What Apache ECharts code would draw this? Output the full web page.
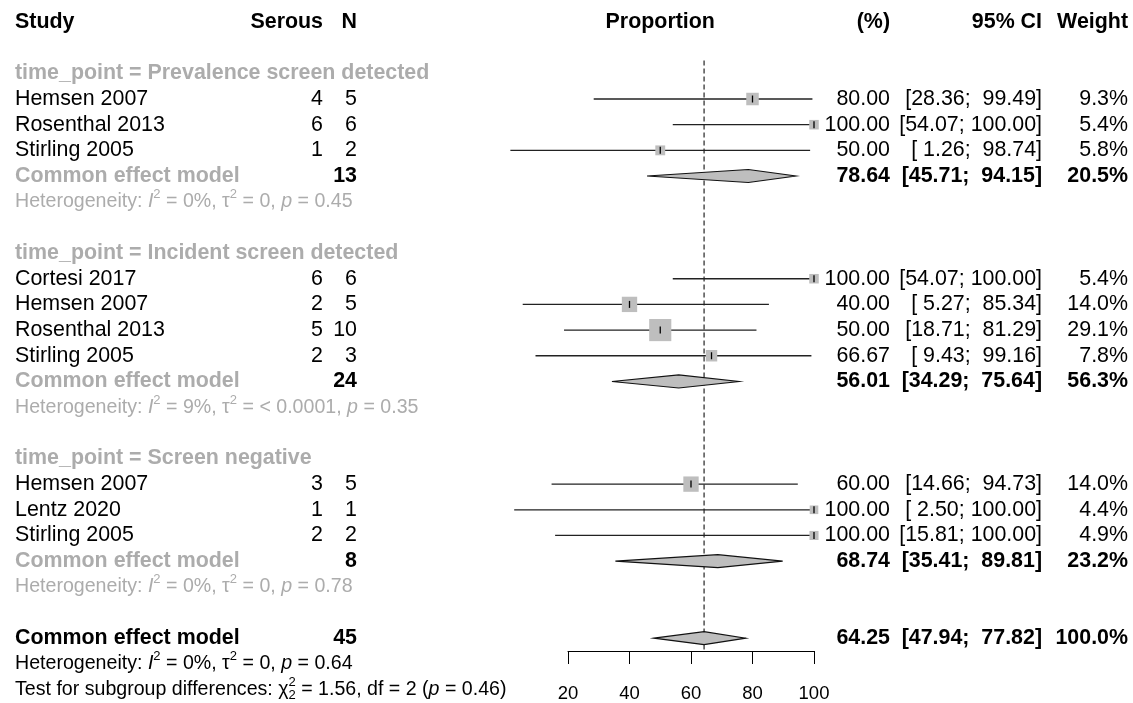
<!DOCTYPE html>
<html><head><meta charset="utf-8">
<script src="https://cdn.jsdelivr.net/npm/echarts@6/dist/echarts.min.js"></script>
<style>html,body{margin:0;padding:0;background:#fff}#c{width:1133px;height:703px}</style>
</head><body><div id="c"></div>
<script>
// ---------------- DATA ----------------
const xTicks = [20, 40, 60, 80, 100];
const headers = ['Study', 'Serous', 'N', 'Proportion', '(%)', '95% CI', 'Weight'];
const groupLabels = ['time_point = Prevalence screen detected', 'time_point = Incident screen detected', 'time_point = Screen negative'];
const studyNames = ['Hemsen 2007', 'Rosenthal 2013', 'Stirling 2005', 'Cortesi 2017', 'Hemsen 2007', 'Rosenthal 2013', 'Stirling 2005', 'Hemsen 2007', 'Lentz 2020', 'Stirling 2005'];
const studyGroup = [0, 0, 0, 1, 1, 1, 1, 2, 2, 2];
const serous = [4, 6, 1, 6, 2, 5, 2, 3, 1, 2];
const totalN = [5, 6, 2, 6, 5, 10, 3, 5, 1, 2];
const proportion = [80.00, 100.00, 50.00, 100.00, 40.00, 50.00, 66.67, 60.00, 100.00, 100.00];
const ciLower = [28.36, 54.07, 1.26, 54.07, 5.27, 18.71, 9.43, 14.66, 2.50, 15.81];
const ciUpper = [99.49, 100.00, 98.74, 100.00, 85.34, 81.29, 99.16, 94.73, 100.00, 100.00];
const weight = [9.3, 5.4, 5.8, 5.4, 14.0, 29.1, 7.8, 14.0, 4.4, 4.9];
const pooledLabel = 'Common effect model';
const pooledN = [13, 24, 8];
const pooledEst = [78.64, 56.01, 68.74];
const pooledLower = [45.71, 34.29, 35.41];
const pooledUpper = [94.15, 75.64, 89.81];
const pooledWeight = [20.5, 56.3, 23.2];
const hetI2 = ['0%', '9%', '0%'];
const hetTau2 = ['0', '< 0.0001', '0'];
const hetP = ['0.45', '0.35', '0.78'];
const overallN = [45];
const overallEst = [64.25];
const overallLower = [47.94];
const overallUpper = [77.82];
const overallWeight = [100.0];
const overallHet = ['0%', '0', '0.64'];      // I2, tau2, p
const subgroupTest = ['1.56', '2', '0.46'];  // chi2, df, p

// ---------------- LAYOUT ----------------
const FONT = '"Liberation Sans", Arial, Helvetica, sans-serif';
const MAIN = 21.4, SMALL = 19.6;
const GRAYTXT = '#acacac';
const COL = { study: 15, serous: 323, n: 357, pct: 890, ci: 1042, w: 1128 };

// row indices
const groupRow = [], studyRow = [], pooledRow = [], hetRow = [];
let r = 0;
groupLabels.forEach((g, gi) => {
  groupRow[gi] = r++;
  studyNames.forEach((s, i) => { if (studyGroup[i] === gi) studyRow[i] = r++; });
  pooledRow[gi] = r++;
  hetRow[gi] = r++;
  r++;
});
const overallRow = r, overallHetRow = r + 1, testRow = r + 2;
const headerRow = -2;
const Y_MIN = -0.5, Y_MAX = overallRow + 0.5;

const fmt2 = v => v.toFixed(2);
const fmtCI = (lo, hi) => '[' + lo.toFixed(2).padStart(5, ' ') + '; ' + hi.toFixed(2).padStart(6, ' ') + ']';
const fmtW = w => w.toFixed(1) + '%';

const studyData = studyNames.map((_, i) => [proportion[i], studyRow[i], ciLower[i], ciUpper[i], weight[i]]);
const diamondData = pooledEst.map((e, g) => [e, pooledRow[g], pooledLower[g], pooledUpper[g]])
  .concat([[overallEst[0], overallRow, overallLower[0], overallUpper[0]]]);

const chart = echarts.init(document.getElementById('c'), null, { renderer: 'canvas' });

chart.setOption({
  animation: false,
  backgroundColor: '#ffffff',
  grid: { left: 568, width: 246, top: 60.5, height: 591.5 },
  xAxis: {
    type: 'value', position: 'bottom', min: xTicks[0], max: xTicks[xTicks.length - 1], interval: 20,
    axisLine: { show: true, onZero: false, lineStyle: { color: '#000', width: 1 } },
    axisTick: { show: true, length: 13, inside: false, lineStyle: { color: '#000', width: 1 } },
    axisLabel: { show: true, margin: 33, fontSize: 18.5, color: '#000', fontFamily: FONT,
      formatter: v => (xTicks.includes(v) ? String(v) : '') },
    splitLine: { show: false }
  },
  yAxis: { type: 'value', inverse: true, min: Y_MIN, max: Y_MAX, show: false },
  series: [
    {
      // reference (dashed) line at the overall estimate
      type: 'custom', clip: false, silent: true, z: 1,
      encode: { x: 0 },
      data: [[overallEst[0]]],
      renderItem: (params, api) => {
        const v = api.value(0);
        const p1 = api.coord([v, Y_MIN]), p2 = api.coord([v, Y_MAX]);
        return { type: 'line', shape: { x1: p1[0], y1: p1[1], x2: p2[0], y2: p2[1] },
          style: { stroke: '#111', lineWidth: 1.1, lineDash: [5, 3] } };
      }
    },
    {
      type: 'custom', clip: false, silent: true, z: 3,
      encode: { x: [0, 2, 3], y: 1 },
      data: studyData,
      renderItem: (params, api) => {
        const est = api.value(0), row = api.value(1), lo = api.value(2), hi = api.value(3), w = api.value(4);
        const pE = api.coord([est, row]), pL = api.coord([lo, row]), pH = api.coord([hi, row]);
        const s = 4.1 * Math.sqrt(w);
        const y = pE[1];
        return { type: 'group', children: [
          { type: 'line', shape: { x1: pL[0], y1: y, x2: pH[0], y2: y }, style: { stroke: '#222', lineWidth: 1.3 } },
          { type: 'rect', shape: { x: pE[0] - s / 2, y: pE[1] - s / 2, width: s, height: s }, style: { fill: '#bebebe' } },
          { type: 'line', shape: { x1: pE[0], y1: pE[1] - 3.5, x2: pE[0], y2: pE[1] + 3.5 }, style: { stroke: '#000', lineWidth: 1.3 } }
        ]};
      }
    },
    {
      type: 'custom', clip: false, silent: true, z: 4,
      encode: { x: [0, 2, 3], y: 1 },
      data: diamondData,
      renderItem: (params, api) => {
        const est = api.value(0), row = api.value(1), lo = api.value(2), hi = api.value(3);
        const pE = api.coord([est, row]), pL = api.coord([lo, row]), pH = api.coord([hi, row]);
        const h = 6.5;
        return { type: 'polygon', shape: { points: [[pL[0], pE[1]], [pE[0], pE[1] - h], [pH[0], pE[1]], [pE[0], pE[1] + h]] },
          style: { fill: '#bebebe', stroke: '#111', lineWidth: 1.1 } };
      }
    }
  ]
});

// ---------------- TEXT ----------------
const ctx = document.createElement('canvas').getContext('2d');
function measure(text, size, bold, italic) {
  ctx.font = (italic ? 'italic ' : '') + (bold ? 'bold ' : '') + size + 'px ' + FONT;
  return ctx.measureText(text).width;
}
const els = [];
function txt(x, y, text, o) {
  o = o || {};
  els.push({ type: 'text', silent: true, x: x, y: y, style: {
    text: text, fill: o.color || '#000', fontSize: o.size || MAIN, fontFamily: FONT,
    fontWeight: o.bold ? 'bold' : 'normal', fontStyle: o.italic ? 'italic' : 'normal',
    align: o.align || 'left', verticalAlign: 'middle', textAlign: o.align || 'left', textVerticalAlign: 'middle'
  }});
}
// segmented text (for superscripts / italics), left aligned
function seg(x, y, segs, size, color) {
  let cx = x;
  segs.forEach(s => {
    let sz = size, dy = 0;
    if (s.sup) { sz = Math.round(size * 0.68); dy = -size * 0.36; }
    if (s.sub) { sz = Math.round(size * 0.68); dy = size * 0.3; }
    txt(cx, y + dy, s.t, { size: sz, color: color, italic: s.it });
    if (!s.noAdv) cx += measure(s.t, sz, false, s.it);
  });
}
const px = (v, row) => chart.convertToPixel({ gridIndex: 0 }, [v, row]);
const Y = row => px(50, row)[1];

// header
const hy = Y(headerRow);
txt(COL.study, hy, headers[0], { bold: true });
txt(COL.serous, hy, headers[1], { bold: true, align: 'right' });
txt(COL.n, hy, headers[2], { bold: true, align: 'right' });
txt(px(50, headerRow)[0], hy, headers[3], { bold: true, align: 'center' });
txt(COL.pct, hy, headers[4], { bold: true, align: 'right' });
txt(COL.ci, hy, headers[5], { bold: true, align: 'right' });
txt(COL.w, hy, headers[6], { bold: true, align: 'right' });

groupLabels.forEach((g, gi) => {
  txt(COL.study, Y(groupRow[gi]), g, { bold: true, color: GRAYTXT });
  const py = Y(pooledRow[gi]);
  txt(COL.study, py, pooledLabel, { bold: true, color: GRAYTXT });
  txt(COL.n, py, String(pooledN[gi]), { bold: true, align: 'right' });
  txt(COL.pct, py, fmt2(pooledEst[gi]), { bold: true, align: 'right' });
  txt(COL.ci, py, fmtCI(pooledLower[gi], pooledUpper[gi]), { bold: true, align: 'right' });
  txt(COL.w, py, fmtW(pooledWeight[gi]), { bold: true, align: 'right' });
  seg(COL.study, Y(hetRow[gi]), [
    { t: 'Heterogeneity: ' }, { t: 'I', it: true }, { t: '2', sup: true }, { t: ' = ' + hetI2[gi] + ', ' },
    { t: 'τ' }, { t: '2', sup: true }, { t: ' = ' + hetTau2[gi] + ', ' }, { t: 'p', it: true }, { t: ' = ' + hetP[gi] }
  ], SMALL, GRAYTXT);
});

studyNames.forEach((s, i) => {
  const y = Y(studyRow[i]);
  txt(COL.study, y, s);
  txt(COL.serous, y, String(serous[i]), { align: 'right' });
  txt(COL.n, y, String(totalN[i]), { align: 'right' });
  txt(COL.pct, y, fmt2(proportion[i]), { align: 'right' });
  txt(COL.ci, y, fmtCI(ciLower[i], ciUpper[i]), { align: 'right' });
  txt(COL.w, y, fmtW(weight[i]), { align: 'right' });
});

const oy = Y(overallRow);
txt(COL.study, oy, pooledLabel, { bold: true });
txt(COL.n, oy, String(overallN[0]), { bold: true, align: 'right' });
txt(COL.pct, oy, fmt2(overallEst[0]), { bold: true, align: 'right' });
txt(COL.ci, oy, fmtCI(overallLower[0], overallUpper[0]), { bold: true, align: 'right' });
txt(COL.w, oy, fmtW(overallWeight[0]), { bold: true, align: 'right' });

seg(COL.study, Y(overallHetRow), [
  { t: 'Heterogeneity: ' }, { t: 'I', it: true }, { t: '2', sup: true }, { t: ' = ' + overallHet[0] + ', ' },
  { t: 'τ' }, { t: '2', sup: true }, { t: ' = ' + overallHet[1] + ', ' }, { t: 'p', it: true }, { t: ' = ' + overallHet[2] }
], SMALL, '#000');
seg(COL.study, Y(testRow), [
  { t: 'Test for subgroup differences: ' }, { t: 'χ' }, { t: '2', sup: true, noAdv: true }, { t: '2', sub: true },
  { t: ' = ' + subgroupTest[0] + ', df = ' + subgroupTest[1] + ' (' }, { t: 'p', it: true }, { t: ' = ' + subgroupTest[2] + ')' }
], SMALL, '#000');

chart.setOption({ graphic: { elements: els } });
</script>
</body></html>
